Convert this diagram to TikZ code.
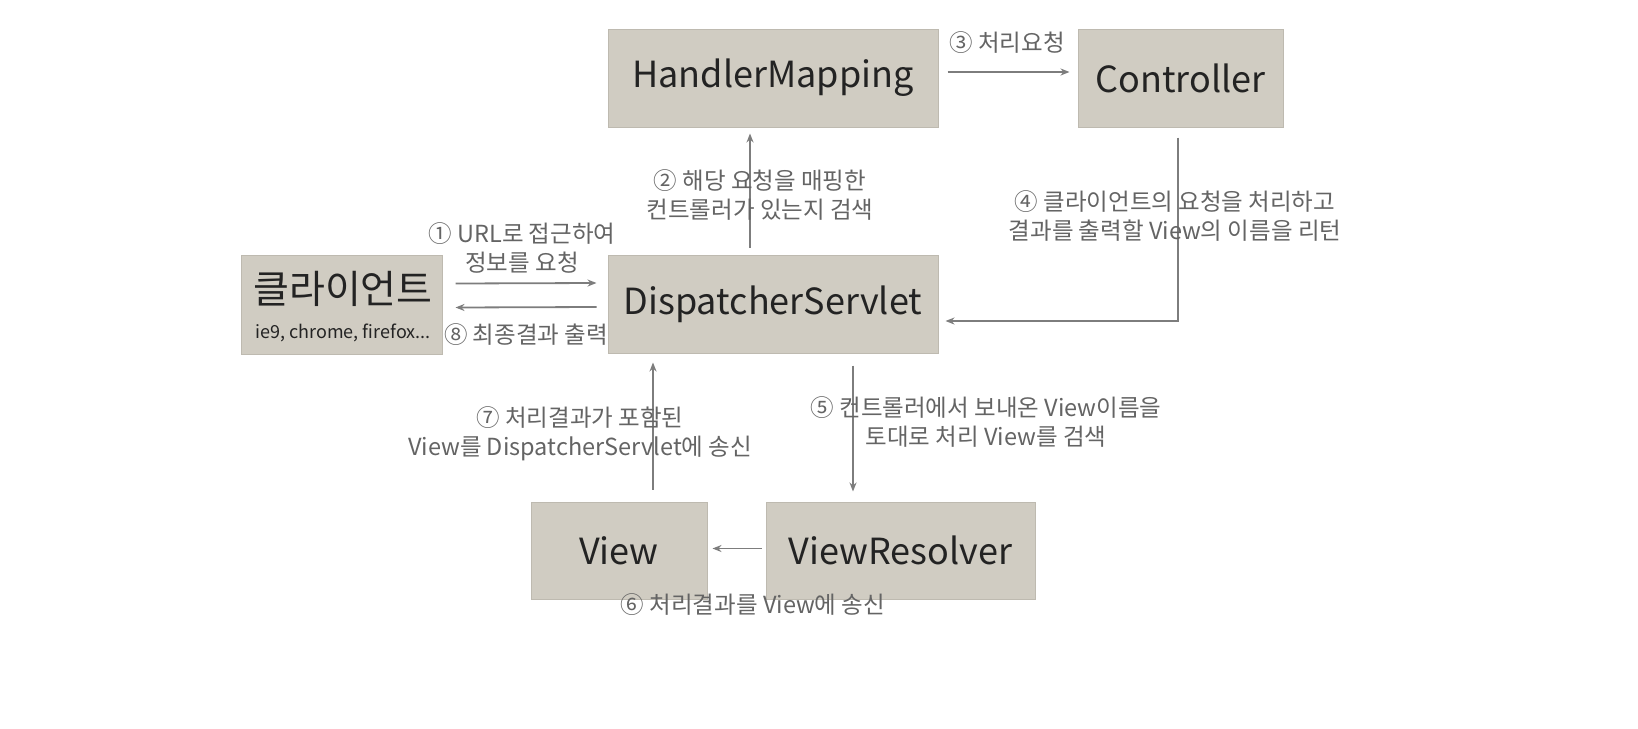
\documentclass[tikz,border=0pt]{standalone}
\usepackage{fontspec}
\setmainfont{Noto Sans CJK KR}
\usetikzlibrary{arrows.meta,calc}
\definecolor{boxfill}{RGB}{208,204,194}
\definecolor{boxline}{RGB}{190,186,176}
\definecolor{boxtext}{RGB}{35,35,35}
\definecolor{labtext}{RGB}{100,100,100}
\definecolor{arrcol}{RGB}{125,125,125}
\tikzset{
  comp/.style={draw=boxline, line width=1pt, fill=boxfill, inner sep=0pt, text=boxtext, font=\fontsize{36}{38}\selectfont},
  lab/.style={text=labtext, font=\fontsize{23.5}{29}\selectfont, align=center, inner sep=0pt},
  arr/.style={draw=arrcol, line width=1.8pt, -{Stealth[length=9pt,width=7pt]}}
}
\begin{document}
\begin{tikzpicture}[x=1pt,y=-1pt]
\useasboundingbox[fill=white] (0,0) rectangle (1638,728);
% components
\node[comp, minimum width=330pt, minimum height=98pt] (hm) at (773,78) {HandlerMapping};
\node[comp, minimum width=205pt, minimum height=98pt] (ctrl) at (1180.5,78) {Controller};
\node[comp, minimum width=201pt, minimum height=99pt] (client) at (341.5,304.5) {};
\node[text=boxtext, font=\fontsize{39}{41}\selectfont, inner sep=0pt] (clientname) at (343,289) {클라이언트};
\node[text=boxtext, font=\fontsize{18}{20}\selectfont, inner sep=0pt] (clientsub) at (343,333) {ie9, chrome, firefox...};
\node[comp, minimum width=330pt, minimum height=98pt] (ds) at (773,304) {DispatcherServlet};
\node[comp, minimum width=176pt, minimum height=97pt] (view) at (619,550.5) {View};
\node[comp, minimum width=269pt, minimum height=97pt] (vr) at (900.5,550.5) {ViewResolver};
% connectors
\draw[arr] ($(ds.north)+(-23,-7)$) -- ($(hm.south)+(-23,6)$);
\draw[arr] ($(hm.east)+(9,-6)$) -- ($(ctrl.west)+(-8,-6)$);
\draw[arr] ($(ctrl.south)+(-2.5,10)$) |- ($(ds.east)+(7,17)$);
\draw[arr] ($(client.east)+(13,-21)$) -- ($(ds.west)+(-11,-21)$);
\draw[arr] ($(ds.west)+(-11,3)$) -- ($(client.east)+(13,3)$);
\draw[arr] ($(view.north)+(34,-12)$) -- ($(ds.south)+(-120,9)$);
\draw[arr] ($(ds.south)+(80,12)$) -- ($(vr.north)+(-47.5,-10)$);
\draw[arr] ($(vr.west)+(-4,-2)$) -- ($(view.east)+(5,-2)$);
% labels
\node[lab] (l1) at (522,248) {① URL로 접근하여\\정보를 요청};
\node[lab] (l2) at (760,195) {② 해당 요청을 매핑한\\컨트롤러가 있는지 검색};
\node[lab] (l3) at (1007,43) {③ 처리요청};
\node[lab] (l4) at (1175,216) {④ 클라이언트의 요청을 처리하고\\결과를 출력할 View의 이름을 리턴};
\node[lab] (l5) at (986,422) {⑤ 컨트롤러에서 보내온 View이름을\\토대로 처리 View를 검색};
\node[lab] (l6) at (753,605) {⑥ 처리결과를 View에 송신};
\node[lab] (l7) at (580,434) {⑦ 처리결과가 포함된\\View를 DispatcherServlet에 송신};
\node[lab] (l8) at (526,335) {⑧ 최종결과 출력};
\end{tikzpicture}
\end{document}
